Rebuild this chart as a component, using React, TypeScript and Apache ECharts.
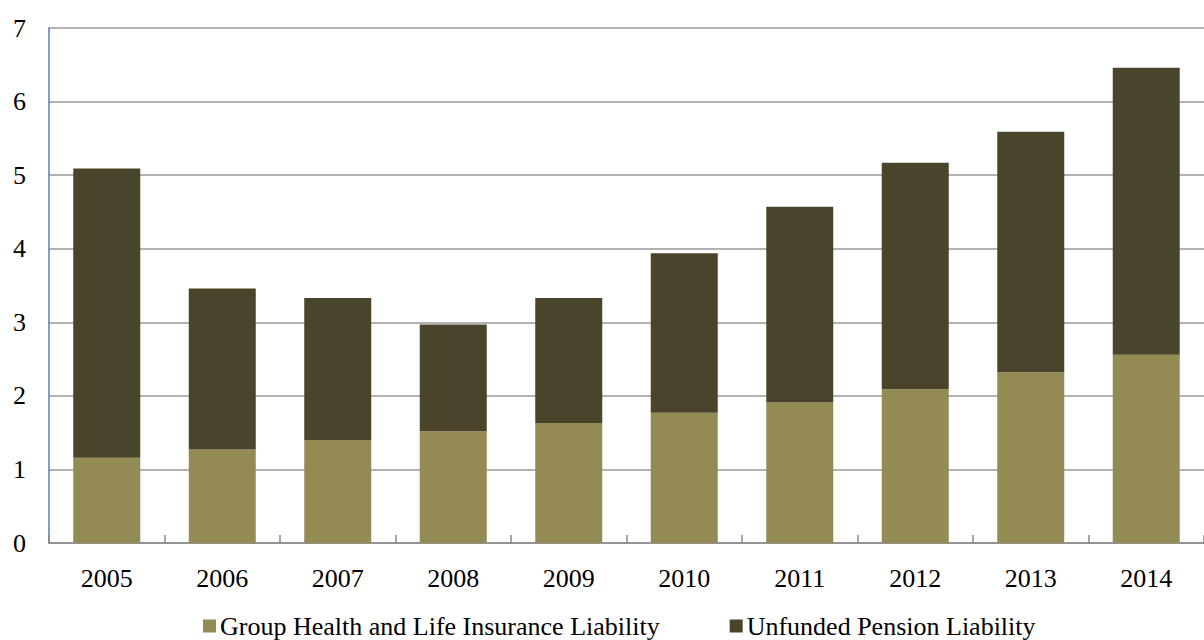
import React, { useEffect, useRef } from "react";
import * as echarts from "echarts";

const years = ["2005", "2006", "2007", "2008", "2009", "2010", "2011", "2012", "2013", "2014"];
const groupHealth = [1.16, 1.27, 1.4, 1.52, 1.63, 1.77, 1.91, 2.09, 2.32, 2.56];
const totals = [5.09, 3.46, 3.33, 2.97, 3.33, 3.94, 4.57, 5.17, 5.59, 6.46];
const pension = totals.map((t, i) => Math.round((t - groupHealth[i]) * 100) / 100);

const seriesNames = ["Group Health and Life Insurance Liability", "Unfunded Pension Liability"];

export default function App() {
  const ref = useRef<HTMLDivElement>(null);
  useEffect(() => {
    if (!ref.current) return;
    const chart = echarts.init(ref.current, undefined, { renderer: "svg" });
    const font = "'Liberation Serif', 'Times New Roman', serif";
    chart.setOption({
      animation: false,
      textStyle: { fontFamily: font },
      grid: { left: 49, top: 28, bottom: 97, right: -12, containLabel: false },
      legend: {
        top: 613,
        left: 203,
        padding: 0,
        itemWidth: 13,
        itemHeight: 13,
        itemGap: 70,
        icon: "rect",
        textStyle: { fontFamily: font, fontSize: 26, color: "#000", padding: [0, 0, 0, -1] },
        data: seriesNames,
      },
      xAxis: {
        type: "category",
        data: years,
        axisLine: { lineStyle: { color: "#888", width: 1.5 } },
        axisTick: { show: true, inside: true, length: 8, lineStyle: { color: "#888", width: 1.5 } },
        axisLabel: { color: "#000", fontSize: 26, fontFamily: font, margin: 22 },
      },
      yAxis: {
        type: "value",
        min: 0,
        max: 7,
        interval: 1,
        axisLine: { show: true, lineStyle: { color: "#4f81bd", width: 1.5 } },
        axisTick: { show: false },
        splitLine: { lineStyle: { color: "#999", width: 1.5 } },
        axisLabel: { color: "#000", fontSize: 26, fontFamily: font, margin: 23 },
      },
      series: [
        {
          name: seriesNames[0],
          type: "bar",
          stack: "total",
          data: groupHealth,
          barWidth: 67,
          itemStyle: { color: "#948a54" },
        },
        {
          name: seriesNames[1],
          type: "bar",
          stack: "total",
          data: pension,
          barWidth: 67,
          itemStyle: { color: "#4a452a" },
        },
      ],
    });
    return () => chart.dispose();
  }, []);
  return (
    <div
      ref={ref}
      style={{ position: "absolute", left: 0, top: 0, width: 1204, height: 640 }}
    />
  );
}
